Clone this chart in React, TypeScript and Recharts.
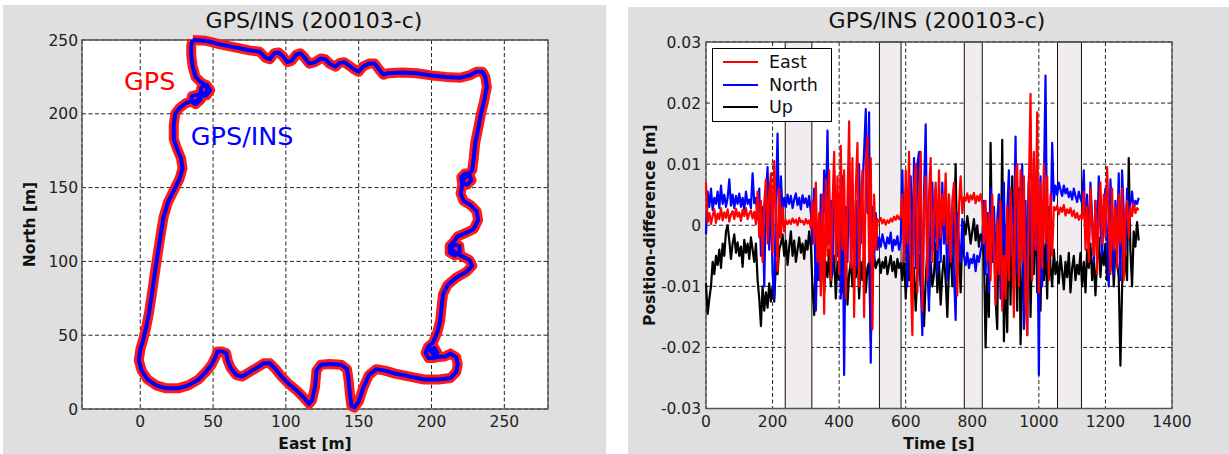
import React from 'react';
import { LineChart, Line, XAxis, YAxis, CartesianGrid, ReferenceArea, ReferenceDot, Label } from 'recharts';

const FONT = '"DejaVu Sans", Arial, sans-serif';

// driven track, metres (east, north), one loop round the test area
const trackEast = [
  36, 45, 55, 65, 75, 82, 86, 89, 92, 95, 98, 101, 104, 107, 110, 113, 116, 120, 124, 127,
  130, 134, 137, 140, 143, 147, 150, 153, 157, 161, 164, 167, 170, 180, 190, 200, 210, 220, 226, 231,
  235, 237, 238, 236, 234, 232, 230, 229, 228,
  226, 223, 220.5, 221, 224.5, 227.5, 226, 222.5, 221, 220, 222, 227, 231, 232, 229, 224, 218, 215,
  212.5, 212.5, 216, 219.5, 219, 215.5, 213.5, 220, 226, 228, 224, 217, 211, 208, 207, 206, 204, 201,
  197.5, 196, 198, 202, 204, 202, 199, 203, 209,
  213, 217, 218, 217, 213, 205, 195, 185, 175, 168, 162, 157, 153, 150, 147, 145, 144, 143, 142, 138,
  130, 124, 121, 120, 118, 116, 113, 108, 102, 97, 93, 89, 85, 80, 75, 70, 66, 62, 60, 59,
  56, 53, 52, 49, 45, 40, 33, 26, 18, 11, 5, 1, -1, 0, 2, 4, 6, 8, 10, 12,
  14, 16, 19, 23, 27, 29, 28, 25, 23, 23, 24, 27, 31, 35,
  38, 41.5, 39.5, 35.5, 35, 38, 42,
  45.5, 48, 45.5, 42, 41.5, 44.5, 46.5,
  44, 41, 38, 36, 35, 35, 36,
];
const trackNorth = [
  250, 249.5, 247, 245, 243, 242, 238, 237, 241, 241.5, 239, 235, 236, 240, 241, 238, 234, 235, 237.5, 237,
  234, 232, 234.5, 235, 233, 230, 228.5, 232, 234, 234, 230, 226.5, 227.5, 228, 227.5, 226, 225, 224.5, 226, 228.5,
  228.5, 225, 218, 208, 200, 190, 180, 170, 162,
  159.5, 159.5, 157, 153, 152, 155, 158.5, 156.5, 151, 146, 141, 138, 134, 128, 122, 119.5, 117, 113,
  110.5, 106, 104, 106.5, 110.5, 111.5, 108, 104, 101, 97, 93, 89, 84, 78, 70, 60, 52, 45,
  42, 38, 34.5, 34.5, 38, 41.5, 40, 35, 35.5,
  37.5, 35, 30, 25, 21, 20, 20, 22, 24, 26, 27, 23, 14, 5, 1, 2, 10, 20, 27, 30,
  30.5, 30, 26, 15, 6, 3.5, 7, 12, 17, 22, 27, 31, 31, 28, 25, 22, 23, 28, 33, 38,
  39, 39, 36, 30, 25, 20, 16, 14, 14, 16, 20, 26, 33, 40, 47, 55, 65, 78, 92, 105,
  118, 130, 140, 148, 156, 163, 170, 177, 183, 192, 200, 204, 207, 208.5,
  206.5, 209.5, 213, 212, 209, 208, 212,
  212.5, 216, 219.5, 218, 214.5, 213, 217,
  220, 222, 225, 232, 240, 246, 250,
];

// position differences GPS/INS - GPS, one value every 5 s from t = 0, in millimetres
const timeStep = 5;
const eastDiff = [
  7, 0.5, 2, 0.2, 1.6, 2.6, 0.4, 1.9, 1, 2.8,
  0.8, 2.1, 1.2, 2.6, 0.6, 1.8, 2.3, 1, 2.7, 1.4,
  2.1, 0.7, 2.5, 1.5, 2.8, 1, 1.9, 2.4, 1.1, 2.2,
  0.2, 5.5, -2, 4, -6, 3.5, 7.5, -3, 5, 8.5,
  -4.5, 10.5, 2, -7.5, 6, -2, 3, -1, 0.8, 0.2,
  0.8, 0.2, 1.1, 0.4, 0.9, 0, 1.2, 0.5, 0.7, 0.1,
  1, 0.3, 0.8, -0.5, 4, -3, 7, -6, 2, -11.5,
  5, -14.5, 7.5, -5, 9, -9, 3, 12, -6, 8,
  -8, 13, -4, 9, -12, 4, 17, -7, 11, -15,
  6, 13.5, -10, 3, 9, -15, 10, 14.5, -6, 11,
  -17, 5, -4, 1, 0.6, 1.2, 0.3, 0.9, 0.1, 0.8,
  0.4, 1.1, 0.6, 1.4, 0.9, 1.6, 1, 1.5, 5, -6,
  9, -3, 12, -8, -18, 6, 10, -11, 4, 12,
  -14, 3, 8, -9, 5, 11, -6, 2, 7, -4,
  9, -2, 5, 0, 8.5, -3, 5, -6, 4, 7,
  -2, -11.5, 3, 8, 2, 4.6, 4, 5.2, 3.8, 4.9,
  4.2, 5.3, 3.6, 4.8, 4, 5.1, 3.4, -3, 4, -6,
  2, -9, 5, -4, -13, 1, -8, 4, -14, -5,
  -12, 3, -9, 6, -3, -15, 8, 10, -10, 9,
  -6, 8, -12, -18, 6, 21.5, -9, 12, -4, 18.5,
  -11, 7, -7, 10, -3, 8, -9, 5, -5, 3,
  2.5, 3.2, 1.8, 2.9, 2.2, 3.3, 1.6, 2.6, 2, 2.8,
  1.5, 2.4, 1.2, 2, 0.9, 1.6, 1.1, 5.5, -4, 3,
  -6, 6, 0, -5, 4, -8, 2, 7, -3, 5,
  -2, 9.5, 1, -8, 6, -4, 3, -7, 5, -3,
  6, -9, 2, 4, -2, 3, 1.5, 3.5, 2, 2.8,
  2.5,
];
const northDiff = [
  -1.5, 5.5, 3, 6, 2.5, 4.5, 3.5, 5.5, 2.8, 6.5,
  3.5, 5, 3, 4.5, 7.5, 3.2, 5, 2.8, 4.8, 3.5,
  5.2, 3, 4.5, 2.5, 5.5, 3.5, 4.2, 2.8, 8.5, 3.6,
  4.5, 1, 6, -5, 3, -10, 5, 9.5, -4, 6,
  -8, -12, 4, 15, -2, 8, 2, 4.5, 3, 5,
  3.5, 4.8, 2.8, 4.2, 5.2, 3.3, 4.5, 2.6, 4.9, 3.6,
  4.4, 3, 4.8, 2, -3, 6, -14, -2, -9, 5,
  -6, 9, 2, 15.5, -3, 4, -8, 9, 1, -5,
  5, -12, 8, -24.5, 3, -6, 11, -2, 7, -9,
  4, -7, 10, -3, 6, 12, 19, 2, 18.5, -22.5,
  3, -6, 2, -4, -2, -3.5, -1.5, -2.8, -3.8, -2,
  -3, -1.2, -4.2, -2.4, -3.2, -1.8, -4, -2.6, 9, -6,
  6, -10, 4, 8, -5, 11, -7, 10, 12, -9,
  -18, 5, 16.5, -6, -14, 3, 7, -4, 6, -8,
  4, -6, 7, -3, 2, -9, 5, -5, 3, -8,
  -15.5, 2, -3, -6, 1, -5, -6.5, -4.5, -7, -5.5,
  -6.2, -4.8, -7.5, -5, -6, -4.2, -3, 4, -8, 2,
  -11, 6, -6, 3, -9, 1, 5, -12, -4, 7,
  -10, 2, 9, -5, 3, -2, 14.5, -8, 6, -3,
  10, -17, 4, -18, 8, 2, -7, 11, -4, 5,
  -24.5, 8, -10, 6, 24.5, -6, 3, -2, 13.5, 4,
  6.5, 5, 7, 5.8, 4.8, 6.5, 5.2, 6, 4.6, 5.5,
  4.2, 6, 4.8, 3.8, 5.5, 4.4, 3.6, 9, -2, 5,
  -4, 7, 1, -6, 4, -3, 8, 0, -5, 3,
  6, -2, -10, 7.5, 2, -8, 4, -3, 8.5, -9,
  9, 2, -4, 6, 0.5, 3.5, 5.5, 2.5, 4, 3.5,
  4.5,
];
const upDiff = [
  -9.5, -14.5, -12, -10, -6, -8, -5, -6.5, -4, -7,
  -3, -5, -1, 0, -2.5, -5.5, -3, -1.5, -4.5, -2.8,
  -5, -3.5, -6.8, -2.4, -4.5, -3, -5.5, -2, -4, -6,
  -3, -9, -12, -16.5, -10, -14, -11, -13.5, -9.5, -12.5,
  -10, -12.5, -6, -8, -4, -3, -1.5, -5, -2.5, -6.5,
  -3.5, -1, -5, -2.5, -6, -4, -2, -4.5, -3, -5.5,
  -2.5, -4, -1, -3.5, -10, -14.7, -6, -9, -4, -7.5,
  -5, -11, -6, -8.5, -4, -10, -7, -5, -12, -6,
  -9, -4, -11, -7, -5, -13, -8, -6, -10, -5,
  -8.5, -3.5, -12, -6, -9, -4, -11, -7, -6, -19,
  -8, -5, -7, -6, -5.5, -7.8, -6, -7, -5.2, -8,
  -6.5, -5, -7.5, -6, -8.5, -5.5, -7, -6.2, -9, -4,
  -12, -6, -9, -3, -11, -7, -14, -8, -5, -10,
  -7, -16.5, -9, -4, -12, -6, -10, -8, -3, -11,
  -6, -13, -8, -5, -9, -15, -7, -4, -10, -2,
  10, -8, -4, -11, -2, 0.5, -1.5, 1.5, -0.5, -3,
  -1, 1, -2.5, 0, -3.5, -1.5, -2, -5, -20, -8,
  -15, 13.5, -6, 3, -12, -17, 5, -9, 14, -19,
  -7, -17.5, 4, -13, 8, -6, -2, -14, 6, -19.5,
  -9, 3, -13, -5, 7, -15, -2, -8, 4, -11,
  -6, -14, 2, -9, -3, -12, 1, -7, -10, -4,
  -8, -6, -9.5, -5, -7.5, -10.5, -6, -8.5, -4.5, -11,
  -7, -5, -9, -6.5, -8, -4.5, -10, -6, -11, -4,
  -7, -3, -9, -5.5, -11.5, -6, -2, -8.5, -4, -6.5,
  -3, -9, -5, -7.5, -2.5, -10, -4, -6, -8.5, -23,
  -10.5, -2, -6, -9, 11, -4, -10, -1, -3.5, 0.5,
  -2.5,
];

// GPS outages [start, end] in s (shaded)
const outages = [
  [238, 318],
  [521, 586],
  [776, 830],
  [1056, 1128],
];

const trackTicks = [0, 50, 100, 150, 200, 250];
const timeTicks = [0, 200, 400, 600, 800, 1000, 1200, 1400];
const diffTicks = [-0.03, -0.02, -0.01, 0, 0.01, 0.02, 0.03];

const series = [
  { key: 'east', name: 'East', color: '#ff0000' },
  { key: 'north', name: 'North', color: '#0000ff' },
  { key: 'up', name: 'Up', color: '#000000' },
];
// drawing order: Up at the back, East in front
const drawOrder = ['up', 'north', 'east'];

const track = trackEast.map((e, i) => ({ e, n: trackNorth[i] }));
const diffs = eastDiff.map((v, i) => ({
  t: i * timeStep,
  east: v / 1000,
  north: northDiff[i] / 1000,
  up: upDiff[i] / 1000,
}));

const tickStyle = { fontSize: 15.5, fill: '#222', fontFamily: FONT };
const axisLabel = { fontSize: 15.5, fontWeight: 'bold', fill: '#111', fontFamily: FONT };
const gridDash = '4 2.5';

function Title({ x, children }: { x: number; children: React.ReactNode }) {
  return (
    <div
      style={{
        position: 'absolute', left: x - 150, top: 10, width: 300, textAlign: 'center',
        fontFamily: FONT, fontSize: 22, lineHeight: '22px', color: '#111',
      }}
    >
      {children}
    </div>
  );
}

function TrackChart() {
  return (
    <LineChart width={606} height={454} data={track} margin={{ top: 40, right: 58, bottom: 0, left: 0 }}>
      <CartesianGrid fill="#fff" stroke="#222" strokeDasharray={gridDash} />
      <XAxis
        type="number" dataKey="e" domain={[-40, 280]} ticks={trackTicks} height={45}
        tickSize={0} tickMargin={7} axisLine={false} tick={tickStyle}
      >
        <Label value="East [m]" position="insideBottom" offset={5} style={axisLabel} />
      </XAxis>
      <YAxis
        type="number" domain={[0, 250]} ticks={trackTicks} width={82}
        tickSize={0} tickMargin={4} axisLine={false} tick={tickStyle}
      >
        <Label value="North [m]" angle={-90} position="center" dx={-12} style={axisLabel} />
      </YAxis>
      <ReferenceArea x1={-40} x2={280} y1={0} y2={250} fill="none" fillOpacity={0} stroke="#555" strokeWidth={1.3} />
      <Line dataKey="n" stroke="#ff1a1a" strokeWidth={10} dot={false} strokeLinejoin="round" isAnimationActive={false} />
      <Line dataKey="n" stroke="#0000ff" strokeWidth={4} dot={false} strokeLinejoin="round" isAnimationActive={false} />
      <ReferenceDot x={6.5} y={222} r={0} stroke="none"
        label={{ value: 'GPS', position: 'center', fill: '#ff0000', fontSize: 25.5, fontFamily: FONT }} />
      <ReferenceDot x={70} y={185} r={0} stroke="none"
        label={{ value: 'GPS/INS', position: 'center', fill: '#0000ff', fontSize: 25.5, fontFamily: FONT }} />
    </LineChart>
  );
}

function DiffLegend() {
  return (
    <div
      style={{
        position: 'absolute', left: 712, top: 48, width: 118, height: 72,
        border: '1px solid #000', background: '#fff', fontFamily: FONT, fontSize: 17.5,
      }}
    >
      {series.map((s, i) => (
        <div key={s.key} style={{ position: 'absolute', left: 0, top: 2 + i * 22.5, height: 22, width: 118 }}>
          <div style={{ position: 'absolute', left: 10, top: 10, width: 35, height: 2, background: s.color }} />
          <div style={{ position: 'absolute', left: 56, top: 0, lineHeight: '22px', color: '#111' }}>{s.name}</div>
        </div>
      ))}
    </div>
  );
}

function DiffChart() {
  return (
    <LineChart width={609} height={454} data={diffs} margin={{ top: 42, right: 57, bottom: 0, left: 0 }}>
      <CartesianGrid fill="#fff" stroke="#222" strokeDasharray={gridDash} />
      <XAxis
        type="number" dataKey="t" domain={[0, 1400]} ticks={timeTicks} height={45.5}
        tickSize={0} tickMargin={7} axisLine={false} tick={tickStyle}
      >
        <Label value="Time [s]" position="insideBottom" offset={5} style={axisLabel} />
      </XAxis>
      <YAxis
        type="number" domain={[-0.03, 0.03]} ticks={diffTicks} width={86}
        tickSize={0} tickMargin={5} axisLine={false} tick={tickStyle}
        tickFormatter={(v: number) => (v === 0 ? '0' : v.toFixed(2))}
      >
        <Label value="Position-difference [m]" angle={-90} position="center" dx={-14} style={axisLabel} />
      </YAxis>
      {outages.map(([a, b]) => (
        <ReferenceArea key={a} x1={a} x2={b} y1={-0.03} y2={0.03} fill="#f0ecf0" fillOpacity={1} stroke="#111" strokeWidth={1} />
      ))}
      <ReferenceArea x1={0} x2={1400} y1={-0.03} y2={0.03} fill="none" fillOpacity={0} stroke="#555" strokeWidth={1.3} />
      {drawOrder.map((k) => {
        const s = series.find((d) => d.key === k)!;
        return (
          <Line key={k} dataKey={k} name={s.name} stroke={s.color} strokeWidth={2.2} dot={false}
            strokeLinejoin="round" isAnimationActive={false} />
        );
      })}
    </LineChart>
  );
}

export default function App() {
  return (
    <div style={{ position: 'absolute', left: 0, top: 0, width: 1229, height: 454, background: '#fff', overflow: 'hidden' }}>
      <div style={{ position: 'absolute', left: 3, top: 5, width: 603, height: 449, background: '#dfdfdf' }} />
      <div style={{ position: 'absolute', left: 628, top: 7, width: 601, height: 447, background: '#dfdfdf' }} />
      <div style={{ position: 'absolute', left: 0, top: 0 }}>
        <TrackChart />
      </div>
      <div style={{ position: 'absolute', left: 620, top: 0 }}>
        <DiffChart />
      </div>
      <Title x={314}>GPS/INS (200103-c)</Title>
      <Title x={937}>GPS/INS (200103-c)</Title>
      <DiffLegend />
    </div>
  );
}
